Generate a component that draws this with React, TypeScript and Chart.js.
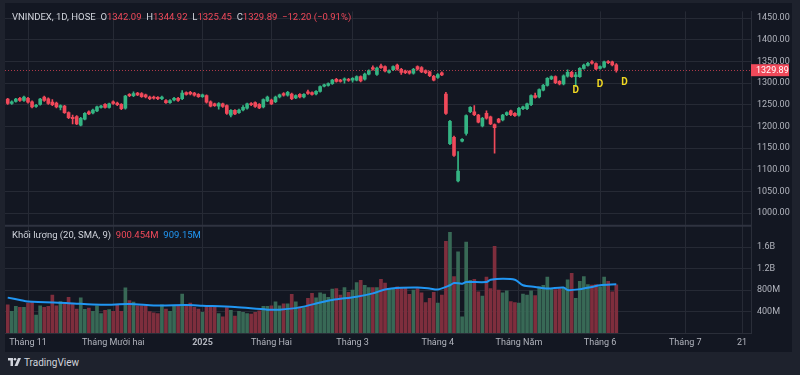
import React, { useEffect, useRef } from 'react';
import { Chart, registerables } from 'chart.js';
Chart.register(...registerables);

// ---- Data (index 0 = 25 Oct 2024, one slot per trading day) ----
const openP = [1263,1253,1258,1265,1260,1265,1257,1246,1251,1268,1264,1256,1254,1244,1247,1232,1221,1223,1203,1217,
  1234,1231,1236,1244,1251,1244,1257,1254,1251,1242,1274,1271,1277,1276,1273,1268,1268,1267,1264,1260,
  1255,1261,1265,1264,1278,1279,1277,1274,1269,1271,1257,1252,1247,1252,1248,1226,1237,1232,1238,1242,
  1253,1255,1251,1245,1259,1261,1257,1268,1276,1272,1275,1266,1274,1268,1280,1278,1275,1281,1293,1295,
  1299,1309,1307,1307,1309,1307,1307,1315,1309,1321,1336,1320,1340,1338,1325,1331,1342,1332,1328,1327,
  1323,1338,1336,1329,1326,1316,1313,1324,1275,1160,1175,1074,1166,1184,1234,1234,1226,1201,1230,1222,
  1204,1217,1215,1227,1236,1230,1226,1241,1241,1250,1271,1268,1284,1295,1310,1315,1304,1298,1316,1325,
  1315,1315,1334,1341,1349,1345,1334,1337,1350,1349,1342.09];
const highP = [1265,1259,1265,1267,1270,1267,1259,1251,1265,1270,1266,1262,1256,1250,1249,1234,1226,1225,1221,1232,
  1236,1240,1247,1249,1253,1254,1259,1256,1253,1272,1276,1280,1279,1278,1275,1270,1270,1269,1270,1262,
  1262,1267,1267,1283,1280,1281,1279,1276,1275,1273,1259,1254,1255,1254,1250,1239,1239,1240,1248,1254,
  1255,1257,1253,1264,1270,1263,1270,1275,1278,1281,1277,1273,1276,1276,1284,1280,1283,1294,1298,1301,
  1309,1311,1309,1312,1311,1313,1317,1317,1323,1331,1340,1337,1344,1340,1331,1340,1344,1334,1330,1329,
  1334,1340,1338,1331,1328,1318,1322,1326,1279,1214,1178,1142,1172,1227,1246,1248,1228,1221,1236,1224,
  1206,1219,1228,1234,1238,1232,1244,1247,1254,1273,1277,1287,1297,1313,1317,1317,1306,1319,1331,1327,
  1325,1336,1344,1348,1352,1347,1340,1351,1352,1351,1344.92];
const lowP = [1251,1251,1256,1258,1258,1254,1243,1244,1249,1258,1251,1248,1243,1238,1230,1218,1206,1204,1201,1215,
  1227,1229,1234,1242,1242,1242,1251,1248,1239,1240,1269,1269,1271,1267,1266,1262,1263,1262,1262,1253,
  1253,1259,1258,1262,1272,1273,1270,1267,1267,1254,1245,1246,1240,1244,1228,1222,1227,1230,1236,1240,
  1248,1244,1241,1243,1257,1250,1255,1266,1270,1270,1262,1264,1266,1266,1274,1272,1273,1279,1291,1293,
  1297,1302,1302,1300,1304,1302,1305,1303,1307,1319,1330,1318,1334,1326,1323,1329,1330,1320,1322,1321,
  1321,1330,1324,1322,1315,1305,1311,1317,1228,1158,1131,1072,1164,1180,1232,1225,1208,1199,1217,1204,
  1138,1208,1213,1225,1225,1223,1224,1239,1239,1248,1265,1266,1282,1293,1308,1299,1296,1296,1314,1313,
  1292,1313,1332,1339,1344,1331,1332,1335,1345,1340,1325.45];
const closeP = [1253,1257,1263,1260,1268,1256,1245,1249,1263,1260,1253,1250,1245,1248,1232,1220,1218,1206,1219,1230,
  1229,1238,1245,1247,1244,1252,1253,1250,1241,1270,1271,1276,1273,1269,1268,1264,1265,1264,1268,1255,
  1260,1265,1260,1277,1274,1275,1272,1269,1273,1256,1247,1248,1253,1246,1230,1237,1229,1238,1244,1252,
  1250,1246,1243,1262,1268,1252,1268,1273,1272,1279,1264,1271,1268,1274,1276,1274,1281,1292,1296,1299,
  1307,1304,1304,1310,1306,1311,1315,1305,1321,1329,1332,1335,1336,1328,1329,1338,1332,1325,1324,1323,
  1332,1332,1326,1324,1317,1307,1320,1319,1230,1212,1133,1097,1170,1225,1244,1227,1210,1219,1219,1206,
  1197,1210,1226,1232,1227,1225,1242,1245,1252,1271,1267,1285,1295,1311,1315,1301,1298,1317,1325,1315,
  1319,1334,1342,1346,1346,1333,1338,1349,1347,1342.09,1329.89];
const volumeM = [527,405,496,478,478,557,581,333,509,478,496,709,509,587,539,666,533,448,654,442,
  466,405,509,363,424,436,405,515,405,842,606,575,509,509,509,400,375,363,527,448,
  405,496,509,727,496,557,478,448,387,496,496,496,363,302,472,424,315,405,387,363,
  351,387,412,496,496,509,581,509,545,545,720,581,490,472,648,739,654,751,727,666,
  818,830,709,848,757,800,939,981,891,848,848,848,1000,933,830,830,860,842,842,720,
  800,830,751,569,648,757,557,709,1709,1878,1054,1515,302,1697,981,1000,769,691,1042,830,
  1618,800,751,787,587,569,557,727,709,787,696,860,891,1042,830,811,830,842,993,1115,
  648,964,1054,902,896,902,860,1042,964,769,900.454];
const smaIdx = [0,3,5,15,23,30,36,39,44,48,56,64,67,72,77,80,86,90,93,97,101,104,106,109,110,112,113,118,119,122,125,127,130,133,137,138,141,144,146,150];
const smaVal = [660,617,587,557,527,539,515,515,521,509,484,436,436,478,569,617,678,739,812,842,848,830,812,891,933,921,951,951,993,1012,993,891,860,830,848,800,818,860,891,909.15];

const monthTickIdx = [5, 26, 48, 65, 85, 106, 126, 146, 167, 181];
const monthLabels = ['Tháng 11', 'Tháng Mười hai', '2025', 'Tháng Hai', 'Tháng 3', 'Tháng 4', 'Tháng Năm', 'Tháng 6', 'Tháng 7', '21'];
const priceTicks = [1000, 1050, 1100, 1150, 1200, 1250, 1300, 1350, 1400, 1450];
const volTicks = [400, 800, 1200, 1600];
const volTickLabels = ['400M', '800M', '1.2B', '1.6B'];
const dividendIdx = [140, 146, 152];
const dividendPrice = [1283, 1296, 1301.5];
const lastClose = 1329.89;

// ---- Styles ----
const FONT = 'Roboto, "Noto Sans", sans-serif';
const UP = '#34b483';
const DOWN = '#f0495a';
const UP_VOL = '#386956';
const DOWN_VOL = '#7e2e3d';
const GRID = '#262a35';
const TEXT = '#b2b5be';
const BG = '#131722';
const FRAME = '#1e222d';

export default function App() {
  const ref = useRef<HTMLCanvasElement | null>(null);

  useEffect(() => {
    document.body.style.margin = '0';
    const canvas = ref.current;
    if (!canvas) return;
    const idx = closeP.map((_, i) => i);
    const isUp = idx.map((i) => closeP[i] >= openP[i]);

    const bgPlugin = {
      id: 'bg',
      beforeDraw(chart: any) {
        const c = chart.ctx;
        c.save();
        c.fillStyle = FRAME;
        c.fillRect(0, 0, chart.width, chart.height);
        c.fillStyle = BG;
        c.fillRect(5, 3, 787, chart.height - 3);
        c.restore();
      },
    };

    const overlayPlugin = {
      id: 'overlay',
      afterDatasetsDraw(chart: any) {
        const c = chart.ctx;
        const a = chart.chartArea;
        const xs = chart.scales.x;
        const ys = chart.scales.y;
        c.save();
        // pane separator
        const sy = chart.scales.yv.top;
        c.strokeStyle = '#2f3340';
        c.lineWidth = 2;
        c.beginPath();
        c.moveTo(a.left, sy);
        c.lineTo(a.right, sy);
        c.stroke();
        // last price dotted line
        const py = Math.round(ys.getPixelForValue(lastClose)) + 0.5;
        c.strokeStyle = DOWN;
        c.globalAlpha = 0.7;
        c.lineWidth = 1;
        c.setLineDash([1, 2]);
        c.beginPath();
        c.moveTo(a.left, py);
        c.lineTo(a.right, py);
        c.stroke();
        c.setLineDash([]);
        c.globalAlpha = 1;
        // dividend markers
        c.fillStyle = '#f0d722';
        c.font = 'bold 10px ' + FONT;
        c.textAlign = 'center';
        c.textBaseline = 'middle';
        dividendIdx.forEach((d, i) => {
          c.fillText('D', xs.getPixelForValue(d), ys.getPixelForValue(dividendPrice[i]));
        });
        c.restore();
      },
      afterDraw(chart: any) {
        const c = chart.ctx;
        const a = chart.chartArea;
        const ys = chart.scales.y;
        const py = ys.getPixelForValue(lastClose);
        c.save();
        c.fillStyle = DOWN;
        c.fillRect(a.right, py - 6, 38, 12);
        c.fillStyle = '#ffffff';
        c.font = '9px ' + FONT;
        c.textAlign = 'left';
        c.textBaseline = 'middle';
        c.fillText(lastClose.toFixed(2), a.right + 5, py + 0.5);
        c.restore();
      },
    };

    const chart = new Chart(canvas, {
      type: 'bar',
      data: {
        datasets: [
          {
            type: 'bar',
            label: 'body',
            data: idx.map((i) => ({ x: i, y: [openP[i], closeP[i]] })) as any,
            backgroundColor: idx.map((i) => (isUp[i] ? UP : DOWN)),
            barThickness: 3,
            minBarLength: 1,
            grouped: false,
            yAxisID: 'y',
            order: 1,
          } as any,
          {
            type: 'bar',
            label: 'wick',
            data: idx.map((i) => ({ x: i, y: [lowP[i], highP[i]] })) as any,
            backgroundColor: idx.map((i) => (isUp[i] ? UP : DOWN)),
            barThickness: 1,
            grouped: false,
            yAxisID: 'y',
            order: 2,
          } as any,
          {
            type: 'line',
            label: 'sma',
            data: smaIdx.map((x, i) => ({ x, y: smaVal[i] })) as any,
            borderColor: '#2196f3',
            borderWidth: 2,
            pointRadius: 0,
            tension: 0.3,
            yAxisID: 'yv',
            order: 3,
          } as any,
          {
            type: 'bar',
            label: 'volume',
            data: idx.map((i) => ({ x: i, y: volumeM[i] })) as any,
            backgroundColor: idx.map((i) => (isUp[i] ? UP_VOL : DOWN_VOL)),
            barThickness: 3,
            grouped: false,
            yAxisID: 'yv',
            order: 4,
          } as any,
        ],
      },
      options: {
        responsive: false,
        animation: false,
        devicePixelRatio: 1,
        layout: { padding: { top: 3, left: 5, right: 8, bottom: 0 } },
        plugins: { legend: { display: false }, tooltip: { enabled: false } },
        scales: {
          x: {
            type: 'linear',
            min: -0.67,
            max: 183.2,
            offset: false,
            grid: { color: GRID, drawTicks: false, offset: false },
            border: { display: true, color: '#2a2e39' },
            ticks: {
              autoSkip: false,
              maxRotation: 0,
              padding: 4,
              color: TEXT,
              font: (ctx: any) => ({ family: FONT, size: 9, weight: ctx.index === 2 ? 'bold' : 'normal' }),
              callback: (_v: any, i: number) => monthLabels[i],
            },
            afterBuildTicks: (s: any) => {
              s.ticks = monthTickIdx.map((v) => ({ value: v }));
            },
            afterFit: (s: any) => {
              s.height = 19;
            },
          } as any,
          y: {
            type: 'linear',
            position: 'right',
            stack: 'panes',
            stackWeight: 2,
            min: 970.5,
            max: 1465.7,
            beginAtZero: false,
            grid: { color: GRID, drawTicks: false },
            border: { display: true, color: '#2a2e39' },
            ticks: {
              autoSkip: false,
              color: TEXT,
              padding: 6,
              font: { family: FONT, size: 9 },
              callback: (v: any) => Number(v).toFixed(2),
            },
            afterBuildTicks: (s: any) => {
              s.ticks = priceTicks.map((v) => ({ value: v }));
            },
            afterFit: (s: any) => {
              s.width = 41;
            },
          } as any,
          yv: {
            type: 'linear',
            position: 'right',
            stack: 'panes',
            stackWeight: 1,
            min: 0,
            max: 2000,
            grid: { color: GRID, drawTicks: false },
            border: { display: true, color: '#2a2e39' },
            ticks: {
              autoSkip: false,
              color: TEXT,
              padding: 6,
              font: { family: FONT, size: 9 },
              callback: (_v: any, i: number) => volTickLabels[i],
            },
            afterBuildTicks: (s: any) => {
              s.ticks = volTicks.map((v) => ({ value: v }));
            },
            afterFit: (s: any) => {
              s.width = 41;
            },
          } as any,
        },
      },
      plugins: [bgPlugin, overlayPlugin],
    });
    return () => chart.destroy();
  }, []);

  const lbl: React.CSSProperties = { color: '#d1d4dc' };
  const red: React.CSSProperties = { color: DOWN };
  return (
    <div style={{ position: 'fixed', left: 0, top: 0, width: 800, height: 375, background: FRAME, fontFamily: FONT, overflow: 'hidden' }}>
      <canvas ref={ref} width={800} height={352} style={{ position: 'absolute', left: 0, top: 0, width: 800, height: 352 }} />
      <div style={{ position: 'absolute', left: 12, top: 11, fontSize: 9.5, lineHeight: '12px', whiteSpace: 'pre' }}>
        <span style={lbl}>VNINDEX, 1D, HOSE  O</span><span style={red}>1342.09</span>
        <span style={lbl}>  H</span><span style={red}>1344.92</span>
        <span style={lbl}>  L</span><span style={red}>1325.45</span>
        <span style={lbl}>  C</span><span style={red}>1329.89</span>
        <span style={red}>  −12.20 (−0.91%)</span>
      </div>
      <div style={{ position: 'absolute', left: 12, top: 229, fontSize: 9.5, lineHeight: '12px', whiteSpace: 'pre' }}>
        <span style={lbl}>Khối lượng (20, SMA, 9)  </span><span style={red}>900.454M</span>
        <span style={{ color: '#2196f3' }}>  909.15M</span>
      </div>
      <div style={{ position: 'absolute', left: 8, top: 356, height: 12, display: 'flex', alignItems: 'center', gap: 3 }}>
        <svg width="13" height="8" viewBox="0 0 13 8">
          <path d="M0 0H5V8H2.5V2.5H0Z" fill="#d1d4dc" />
          <circle cx="7" cy="1.3" r="1.3" fill="#d1d4dc" />
          <path d="M10 0H13L9.5 8H6.5Z" fill="#d1d4dc" />
        </svg>
        <span style={{ color: '#d1d4dc', fontSize: 10 }}>TradingView</span>
      </div>
    </div>
  );
}
